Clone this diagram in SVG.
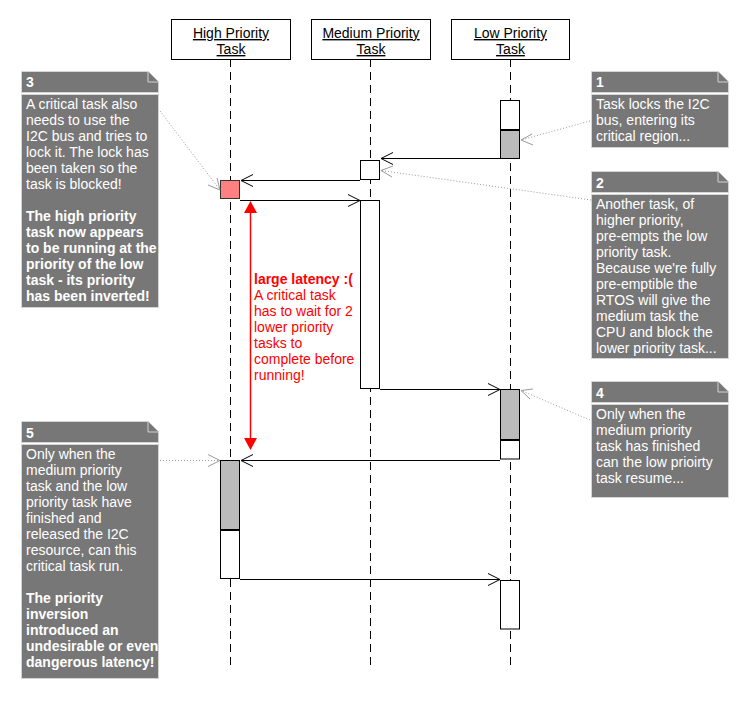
<svg xmlns="http://www.w3.org/2000/svg" width="750" height="710" viewBox="0 0 750 710">
<defs>
<style>
text{font-family:"Liberation Sans",Arial,sans-serif;font-size:14px}
.hdr{fill:#fff;stroke:#000;stroke-width:1}
.hl{text-anchor:middle;text-decoration:underline;fill:#000}
.life{stroke:#000;stroke-width:1;stroke-dasharray:8,5;fill:none}
.act{fill:#fff;stroke:#000;stroke-width:1}
.actg{fill:#bbb;stroke:#000;stroke-width:1}
.div{stroke:#000;stroke-width:2}
.msg{stroke:#000;stroke-width:1;fill:none}
.nline{stroke:#999;stroke-width:1;stroke-dasharray:1,2;fill:none}
.nhead{stroke:#999;stroke-width:1;fill:none}
.nbox{fill:#777;stroke:#d4d4d4;stroke-width:1}
.nt{fill:#fff}
.nb{fill:#fff;font-weight:bold}
.red{fill:#f00}
</style>
<marker id="open" viewBox="0 0 14 14" refX="13" refY="7" markerWidth="14" markerHeight="14" markerUnits="userSpaceOnUse" orient="auto">
<path d="M1,1 L13,7 L1,13" fill="none" stroke="#000" stroke-width="1"/>
</marker>
</defs>
<rect x="0" y="0" width="750" height="710" fill="#fff"/>

<g id="lifelines">
<line class="life" x1="230.5" y1="59" x2="230.5" y2="670"/>
<line class="life" x1="370.5" y1="59" x2="370.5" y2="670"/>
<line class="life" x1="510.5" y1="59" x2="510.5" y2="670"/>
</g>

<g id="high-task">
<rect class="hdr" x="171.5" y="19.5" width="119" height="40"/>
<text class="hl" x="231" y="38">High Priority</text>
<text class="hl" x="231" y="54">Task</text>
</g>
<g id="medium-task">
<rect class="hdr" x="311.5" y="19.5" width="119" height="40"/>
<text class="hl" x="371" y="38">Medium Priority</text>
<text class="hl" x="371" y="54">Task</text>
</g>
<g id="low-task">
<rect class="hdr" x="451.5" y="19.5" width="118" height="40"/>
<text class="hl" x="510.5" y="38">Low Priority</text>
<text class="hl" x="510.5" y="54">Task</text>
</g>

<g id="activations">
<rect class="act" x="500.5" y="100.5" width="19" height="30"/>
<rect class="actg" x="500.5" y="130.5" width="19" height="28"/>
<line class="div" x1="500" y1="130" x2="520" y2="130"/>
<rect class="act" x="360.5" y="160.5" width="19" height="19"/>
<rect x="220.5" y="180.5" width="19" height="18" fill="#ff8080" stroke="#333" stroke-width="1"/>
<rect class="act" x="360.5" y="200.5" width="19" height="188"/>
<rect class="actg" x="500.5" y="389.5" width="19" height="50.5"/>
<rect class="act" x="500.5" y="440" width="19" height="19"/>
<line class="div" x1="500" y1="440" x2="520" y2="440"/>
<rect class="actg" x="220.5" y="460.5" width="19" height="69.5"/>
<rect class="act" x="220.5" y="530" width="19" height="48.5"/>
<line class="div" x1="220" y1="530" x2="240" y2="530"/>
<rect class="act" x="500.5" y="580.5" width="19" height="48.5"/>
</g>

<g id="connectors">
<line class="msg" x1="500" y1="158.5" x2="381" y2="158.5" marker-end="url(#open)"/>
<line class="msg" x1="360" y1="180.5" x2="241" y2="180.5" marker-end="url(#open)"/>
<line class="msg" x1="240" y1="200.5" x2="360" y2="200.5" marker-end="url(#open)"/>
<line class="msg" x1="380" y1="389.5" x2="500" y2="389.5" marker-end="url(#open)"/>
<line class="msg" x1="500" y1="460.5" x2="241" y2="460.5" marker-end="url(#open)"/>
<line class="msg" x1="240" y1="579.5" x2="500" y2="579.5" marker-end="url(#open)"/>
<line class="nline" x1="590" y1="121" x2="521" y2="140"/>
<path class="nhead" d="M532,134 L521,140 L533,145"/>
<line class="nline" x1="591" y1="200" x2="381" y2="170.5"/>
<path class="nhead" d="M393,166 L381,170.5 L392,177"/>
<line class="nline" x1="160" y1="111" x2="220" y2="190"/>
<path class="nhead" d="M208,185 L220,190 L217,178"/>
<line class="nline" x1="590" y1="420" x2="521" y2="390.5"/>
<path class="nhead" d="M533,389 L521,390.5 L530,399"/>
<line class="nline" x1="160" y1="460.5" x2="220" y2="460.5"/>
<path class="nhead" d="M208,454.5 L220,460.5 L208,466.5"/>
<line x1="250.5" y1="212" x2="250.5" y2="439" stroke="#f00" stroke-width="1.5"/>
<path d="M250.5,201 L257,213 L244,213 Z" fill="#f00"/>
<path d="M250.5,450 L257,438 L244,438 Z" fill="#f00"/>
</g>

<g id="latency-label">
<text class="red" x="254" y="284" font-weight="bold">large latency :(</text>
<text class="red" x="254" y="300">A critical task</text>
<text class="red" x="254" y="316">has to wait for 2</text>
<text class="red" x="254" y="332">lower priority</text>
<text class="red" x="254" y="348">tasks to</text>
<text class="red" x="254" y="364">complete before</text>
<text class="red" x="254" y="380">running!</text>
</g>

<g id="note1">
<path class="nbox" d="M591.5,71.5 H718 L728.5,82 V92.5 H591.5 Z"/>
<path class="nbox" d="M718,71.5 V82 H728.5"/>
<rect class="nbox" x="591.5" y="94.5" width="137" height="53"/>
<text class="nb" x="596" y="87">1</text>
<text class="nt" x="596" y="109">Task locks the I2C</text>
<text class="nt" x="596" y="125">bus, entering its</text>
<text class="nt" x="596" y="141">critical region...</text>
</g>

<g id="note2">
<path class="nbox" d="M591.5,171.5 H718 L728.5,182 V192.5 H591.5 Z"/>
<path class="nbox" d="M718,171.5 V182 H728.5"/>
<rect class="nbox" x="591.5" y="194.5" width="137" height="164"/>
<text class="nb" x="596" y="188">2</text>
<text class="nt" x="596" y="209">Another task, of</text>
<text class="nt" x="596" y="225">higher priority,</text>
<text class="nt" x="596" y="241">pre-empts the low</text>
<text class="nt" x="596" y="257">priority task.</text>
<text class="nt" x="596" y="273">Because we're fully</text>
<text class="nt" x="596" y="289">pre-emptible the</text>
<text class="nt" x="596" y="305">RTOS will give the</text>
<text class="nt" x="596" y="321">medium task the</text>
<text class="nt" x="596" y="337">CPU and block the</text>
<text class="nt" x="596" y="353">lower priority task...</text>
</g>

<g id="note3">
<path class="nbox" d="M21.5,71.5 H148 L158.5,82 V92.5 H21.5 Z"/>
<path class="nbox" d="M148,71.5 V82 H158.5"/>
<rect class="nbox" x="21.5" y="94.5" width="137" height="213"/>
<text class="nb" x="26" y="87">3</text>
<text class="nt" x="26" y="109">A critical task also</text>
<text class="nt" x="26" y="125">needs to use the</text>
<text class="nt" x="26" y="141">I2C bus and tries to</text>
<text class="nt" x="26" y="157">lock it. The lock has</text>
<text class="nt" x="26" y="173">been taken so the</text>
<text class="nt" x="26" y="189">task is blocked!</text>
<text class="nb" x="26" y="221">The high priority</text>
<text class="nb" x="26" y="237">task now appears</text>
<text class="nb" x="26" y="253">to be running at the</text>
<text class="nb" x="26" y="269">priority of the low</text>
<text class="nb" x="26" y="285">task - its priority</text>
<text class="nb" x="26" y="301">has been inverted!</text>
</g>

<g id="note4">
<path class="nbox" d="M591.5,381.5 H718 L728.5,392 V402.5 H591.5 Z"/>
<path class="nbox" d="M718,381.5 V392 H728.5"/>
<rect class="nbox" x="591.5" y="404.5" width="137" height="93"/>
<text class="nb" x="596" y="398">4</text>
<text class="nt" x="596" y="419">Only when the</text>
<text class="nt" x="596" y="435">medium priority</text>
<text class="nt" x="596" y="451">task has finished</text>
<text class="nt" x="596" y="467">can the low prioirty</text>
<text class="nt" x="596" y="483">task resume...</text>
</g>

<g id="note5">
<path class="nbox" d="M21.5,421.5 H148 L158.5,432 V442.5 H21.5 Z"/>
<path class="nbox" d="M148,421.5 V432 H158.5"/>
<rect class="nbox" x="21.5" y="444.5" width="137" height="234"/>
<text class="nb" x="26" y="438">5</text>
<text class="nt" x="26" y="459">Only when the</text>
<text class="nt" x="26" y="475">medium priority</text>
<text class="nt" x="26" y="491">task and the low</text>
<text class="nt" x="26" y="507">priority task have</text>
<text class="nt" x="26" y="523">finished and</text>
<text class="nt" x="26" y="539">released the I2C</text>
<text class="nt" x="26" y="555">resource, can this</text>
<text class="nt" x="26" y="571">critical task run.</text>
<text class="nb" x="26" y="603">The priority</text>
<text class="nb" x="26" y="619">inversion</text>
<text class="nb" x="26" y="635">introduced an</text>
<text class="nb" x="26" y="651">undesirable or even</text>
<text class="nb" x="26" y="667">dangerous latency!</text>
</g>
</svg>
